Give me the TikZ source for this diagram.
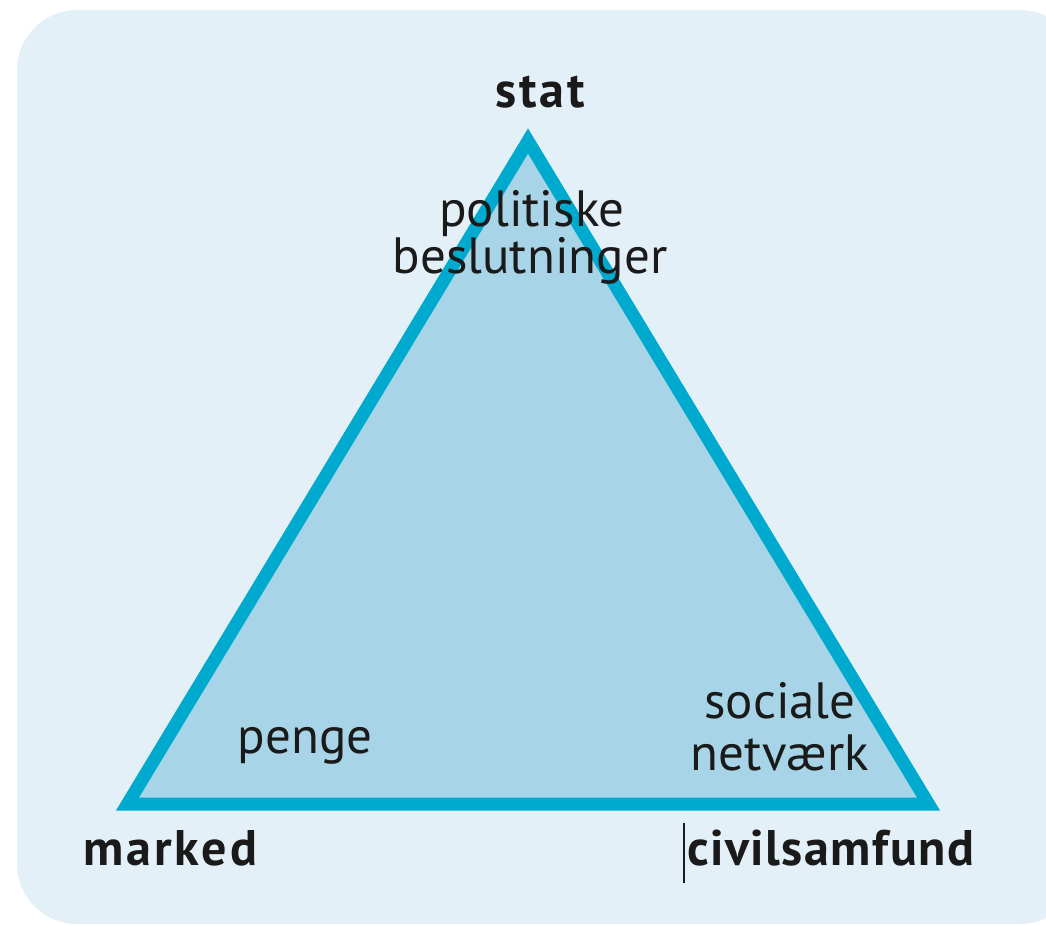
\documentclass[tikz,border=0pt]{standalone}
\usepackage{fontspec}
\setmainfont{PT Sans}
\definecolor{bgblue}{HTML}{E3F0F7}
\definecolor{trifill}{HTML}{A7D5E7}
\definecolor{tristroke}{HTML}{00A9CE}
\definecolor{txt}{HTML}{1A1A1A}
\begin{document}
\begin{tikzpicture}[x=1pt,y=-1pt,
  lbl/.style={inner sep=0pt,anchor=base,text=txt,font=\fontsize{51}{46}\selectfont},
  blbl/.style={lbl,font=\fontsize{50}{46}\selectfont\bfseries\addfontfeatures{LetterSpace=6}},
  blbltight/.style={lbl,font=\fontsize{50}{46}\selectfont\bfseries\addfontfeatures{LetterSpace=3}}]
\useasboundingbox (0,0) rectangle (1046,925);
\fill[bgblue,rounded corners=60pt] (17,10) rectangle (1080,924);
\coordinate (A) at (528,141);
\coordinate (B) at (127.5,804);
\coordinate (C) at (928.5,804);
\filldraw[fill=trifill,draw=tristroke,line width=13pt,line join=miter] (A) -- (B) -- (C) -- cycle;
\node[blbl] (stat) at (540,108) {stat};
\node[lbl] (pol1) at (532,227) {politiske};
\node[lbl] (pol2) at (530,273) {beslutninger};
\node[lbl] (penge) at (305,753) {penge};
\node[lbl] (soc1) at (780,718) {sociale};
\node[lbl] (soc2) at (780,770) {netværk};
\node[blbl,anchor=base west] (marked) at (83,865) {marked};
\node[blbltight,anchor=base west] (civil) at (687,865) {civilsamfund};
\coordinate (cur1) at (684,823);
\coordinate (cur2) at (684,883);
\draw[line width=2pt,txt] (cur1) -- (cur2);
\end{tikzpicture}
\end{document}
